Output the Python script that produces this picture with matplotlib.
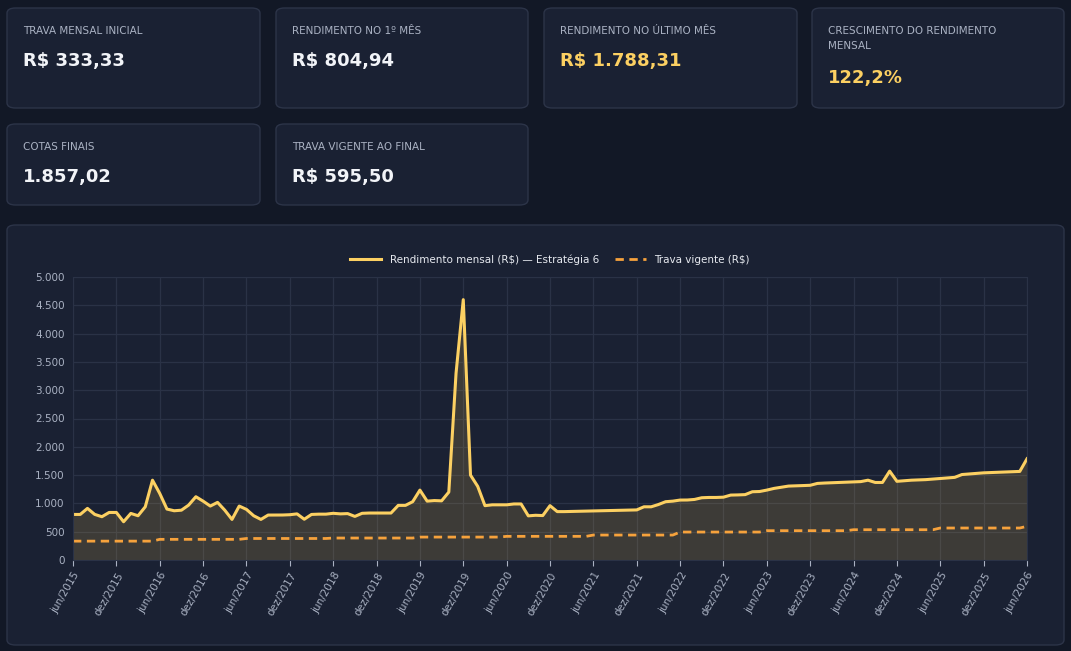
import matplotlib
matplotlib.use("Agg")
import matplotlib.pyplot as plt
from matplotlib.patches import FancyBboxPatch
from matplotlib.ticker import FuncFormatter, MultipleLocator

# monthly data jun/2015 .. jun/2026
rendimento = [
    805, 805, 912, 806, 765, 840, 840, 676, 823, 782, 940, 1410,
    1176, 900, 870, 880, 970, 1118, 1040, 953, 1018, 880, 717, 953,
    894, 782, 717, 794, 795, 795, 800, 815, 720, 805, 810, 810,
    825, 815, 820, 770, 825, 830, 830, 830, 830, 965, 965, 1030,
    1235, 1040, 1050, 1045, 1200, 3300, 4600, 1500, 1300, 960, 975, 975,
    975, 990, 990, 780, 790, 785, 960, 855, 855, 858, 861, 864,
    867, 870, 873, 876, 879, 882, 885, 940, 940, 980, 1030, 1040,
    1059, 1060, 1070, 1100, 1105, 1105, 1110, 1147, 1150, 1155, 1206, 1210,
    1235, 1265, 1285, 1306, 1310, 1315, 1320, 1353, 1360, 1365, 1370, 1375,
    1380, 1385, 1410, 1370, 1370, 1570, 1390, 1400, 1410, 1415, 1420, 1430,
    1440, 1450, 1460, 1510, 1520, 1530, 1540, 1545, 1550, 1555, 1560, 1565,
    1788.31,
]
trava_anual = [333.33, 365, 380, 388, 405, 418, 441, 494, 518, 535, 565]
trava = [v for v in trava_anual for _ in range(12)] + [595.50]

meses = ["jan", "fev", "mar", "abr", "mai", "jun", "jul", "ago", "set", "out", "nov", "dez"]

cards = [
    ("TRAVA MENSAL INICIAL", "R$ 333,33", False),
    ("RENDIMENTO NO 1º MÊS", "R$ 804,94", False),
    ("RENDIMENTO NO ÚLTIMO MÊS", "R$ 1.788,31", True),
    ("CRESCIMENTO DO RENDIMENTO\nMENSAL", "122,2%", True),
    ("COTAS FINAIS", "1.857,02", False),
    ("TRAVA VIGENTE AO FINAL", "R$ 595,50", False),
]

W, H = 1071, 651
BG = "#121826"
PANEL = "#1a2133"
EDGE = "#2c3448"
YELLOW = "#fcd062"
ORANGE = "#f6a23c"

fig = plt.figure(figsize=(W / 100, H / 100), dpi=100, facecolor=BG)


def box(x0, y0, x1, y1):
    p = FancyBboxPatch((x0 / W, 1 - y1 / H), (x1 - x0) / W, (y1 - y0) / H,
                       boxstyle="round,pad=0,rounding_size=0.008",
                       transform=fig.transFigure, facecolor=PANEL,
                       edgecolor=EDGE, linewidth=1, zorder=-1)
    fig.patches.append(p)


card_pos = [(7, 8, 260, 108), (276, 8, 528, 108), (544, 8, 797, 108),
            (812, 8, 1064, 108), (7, 124, 260, 205), (276, 124, 528, 205)]
for (label, value, hi), (x0, y0, x1, y1) in zip(cards, card_pos):
    box(x0, y0, x1, y1)
    fig.text((x0 + 16) / W, 1 - (y0 + 18) / H, label, color="#aab2c3",
             fontsize=7.5, va="top", ha="left", linespacing=1.6)
    vy = y0 + 53 if "\n" not in label else y0 + 70
    fig.text((x0 + 16) / W, 1 - vy / H, value, color=YELLOW if hi else "#f2f4f8",
             fontsize=13, fontweight="bold", va="center", ha="left")

box(7, 225, 1064, 645)

ax = fig.add_axes([73 / W, 1 - 560 / H, (1027 - 73) / W, (560 - 277) / H])
ax.set_zorder(2)
ax.set_facecolor(PANEL)
x = list(range(len(rendimento)))
ax.fill_between(x, rendimento, color="#f5c451", alpha=0.16, linewidth=0)
ax.plot(x, rendimento, color=YELLOW, lw=2.2,
        label="Rendimento mensal (R$) — Estratégia 6")
ax.plot(x, trava, color=ORANGE, lw=2, ls=(0, (3, 2)), label="Trava vigente (R$)")

ax.set_xlim(0, len(rendimento) - 1)
ax.set_ylim(0, 5000)
ax.yaxis.set_major_locator(MultipleLocator(500))
ax.yaxis.set_major_formatter(FuncFormatter(lambda v, p: f"{int(v):,}".replace(",", ".")))
ticks = list(range(0, len(rendimento), 6))
ax.set_xticks(ticks)
ax.set_xticklabels([f"{meses[(5 + t) % 12]}/{2015 + (5 + t) // 12}" for t in ticks],
                   rotation=60, ha="right", rotation_mode="anchor")
ax.grid(True, color="#2a3246", lw=0.9)
ax.set_axisbelow(True)
ax.tick_params(colors="#aab2c3", labelsize=7.5, length=4)
ax.tick_params(axis="y", length=0, pad=6)
for s in ax.spines.values():
    s.set_color("#2a3246")

leg = ax.legend(loc="lower center", bbox_to_anchor=(0.5, 1.01), ncol=2,
                frameon=False, fontsize=7.5, labelcolor="#e6e9ef",
                handlelength=3, columnspacing=1.5)

fig.savefig("out.png", dpi=100, facecolor=BG)
